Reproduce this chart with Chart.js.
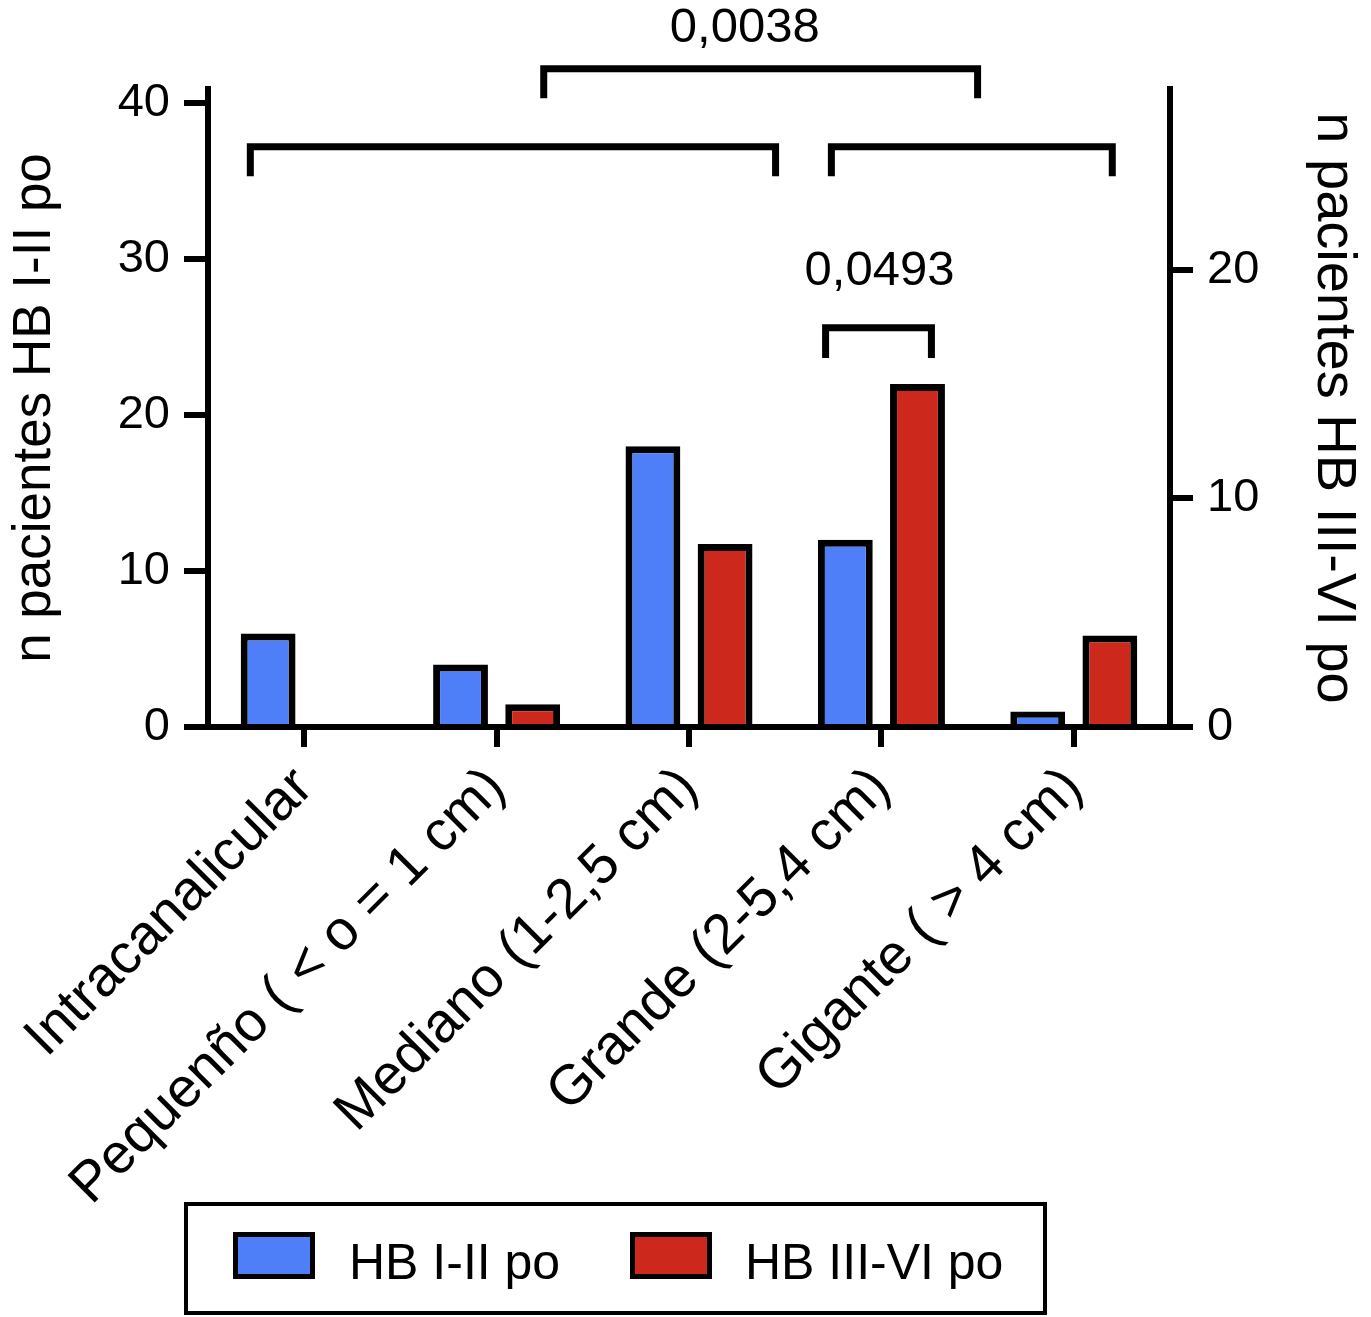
<!DOCTYPE html>
<html>
<head>
<meta charset="utf-8">
<script src="https://cdn.jsdelivr.net/npm/chart.js@4.4.1/dist/chart.umd.min.js"></script>
<style>
  html, body { margin: 0; padding: 0; background: #ffffff; }
  #wrap { width: 1371px; height: 1317px; position: relative; }
</style>
</head>
<body>
<div id="wrap"><canvas id="c" width="1371" height="1317"></canvas></div>
<script>
// ---- data ----
const categories = [
  "Intracanalicular",
  "Pequenño ( < o = 1 cm)",
  "Mediano (1-2,5 cm)",
  "Grande (2-5,4 cm)",
  "Gigante ( > 4 cm)"
];
const hbLowLabel = "HB I-II po";
const hbHighLabel = "HB III-VI po";
const hbLow = [6, 4, 18, 12, 1];      // left axis
const hbHigh = [0, 1, 8, 15, 4];      // right axis
const leftTicks = [0, 10, 20, 30, 40];
const rightTicks = [0, 10, 20];
const leftTitle = "n pacientes HB I-II po";
const rightTitle = "n pacientes HB III-VI po";

// significance brackets (x in category units, y in left-axis units)
const bracketFrom = [1.245, -0.28, 2.74, 2.71];
const bracketTo   = [3.50, 2.45, 4.20, 3.26];
const bracketTop  = [42.2, 37.2, 37.2, 25.6];
const bracketLeg  = [40.3, 35.3, 35.3, 23.65];
const pLabels = ["0,0038", "0,0493"];
const pLabelX = [2.29, 2.99];
const pLabelY = [44.8, 29.2];

const FONT = "'Liberation Sans', Arial, Helvetica, sans-serif";
const BLUE = "#4f7ff8";
const RED = "#cc281c";

const bracketPlugin = {
  id: 'brackets',
  afterDatasetsDraw(chart) {
    const ctx = chart.ctx;
    const xs = chart.scales.x, ys = chart.scales.y;
    const unit = xs.getPixelForValue(1) - xs.getPixelForValue(0);
    const px = v => xs.getPixelForValue(0) + v * unit;
    ctx.save();
    ctx.strokeStyle = '#000';
    ctx.lineWidth = 7;
    ctx.lineJoin = 'miter';
    ctx.lineCap = 'butt';
    for (let i = 0; i < bracketFrom.length; i++) {
      const x1 = px(bracketFrom[i]), x2 = px(bracketTo[i]);
      const yt = ys.getPixelForValue(bracketTop[i]);
      const yl = ys.getPixelForValue(bracketLeg[i]);
      ctx.beginPath();
      ctx.moveTo(x1, yl);
      ctx.lineTo(x1, yt);
      ctx.lineTo(x2, yt);
      ctx.lineTo(x2, yl);
      ctx.stroke();
    }
    ctx.fillStyle = '#000';
    ctx.font = '49px ' + FONT;
    ctx.textAlign = 'center';
    ctx.textBaseline = 'middle';
    for (let i = 0; i < pLabels.length; i++) {
      ctx.fillText(pLabels[i], px(pLabelX[i]), ys.getPixelForValue(pLabelY[i]));
    }
    ctx.restore();
  }
};

const legendPlugin = {
  id: 'boxLegend',
  afterDraw(chart) {
    const ctx = chart.ctx;
    const box = { x: 184, y: 1202, w: 863, h: 113 };
    const swatchX = [233, 630];
    const textX = [349, 745];
    ctx.save();
    ctx.strokeStyle = '#000';
    ctx.lineWidth = 4;
    ctx.strokeRect(box.x + 2, box.y + 2, box.w - 4, box.h - 4);
    chart.data.datasets.forEach((ds, i) => {
      ctx.fillStyle = ds.backgroundColor;
      ctx.fillRect(swatchX[i], 1232, 82, 47);
      ctx.lineWidth = 5;
      ctx.strokeStyle = '#000';
      ctx.strokeRect(swatchX[i] + 2.5, 1232 + 2.5, 82 - 5, 47 - 5);
      ctx.fillStyle = '#000';
      ctx.font = '50px ' + FONT;
      ctx.textAlign = 'left';
      ctx.textBaseline = 'alphabetic';
      ctx.fillText(ds.label, textX[i], 1279);
    });
    ctx.restore();
  }
};

new Chart(document.getElementById('c'), {
  type: 'bar',
  data: {
    labels: categories,
    datasets: [
      {
        label: hbLowLabel,
        data: hbLow,
        yAxisID: 'y',
        backgroundColor: BLUE,
        borderColor: '#000',
        borderWidth: 7,
        borderSkipped: 'start',
        categoryPercentage: 0.75,
        barPercentage: 0.76
      },
      {
        label: hbHighLabel,
        data: hbHigh,
        yAxisID: 'y1',
        backgroundColor: RED,
        borderColor: '#000',
        borderWidth: 7,
        borderSkipped: 'start',
        categoryPercentage: 0.75,
        barPercentage: 0.76
      }
    ]
  },
  options: {
    responsive: false,
    animation: false,
    devicePixelRatio: 1,
    layout: { padding: { top: 89, left: 0, right: 0, bottom: 0 } },
    plugins: {
      legend: { display: false },
      tooltip: { enabled: false },
      title: { display: false }
    },
    scales: {
      x: {
        afterFit: s => { s.height = 1317 - 89 - 638; },
        border: { display: true, color: '#000', width: 6 },
        grid: {
          display: true, drawOnChartArea: false, offset: false,
          color: '#000', lineWidth: 6, tickLength: 20
        },
        ticks: {
          autoSkip: false, minRotation: 45, maxRotation: 45,
          color: '#000', padding: 8,
          font: { family: FONT, size: 56 }
        }
      },
      y: {
        position: 'left',
        min: 0, max: 40.9,
        afterFit: s => { s.width = 208; },
        afterBuildTicks: s => { s.ticks = leftTicks.map(v => ({ value: v })); },
        border: { display: true, color: '#000', width: 6 },
        grid: { display: true, drawOnChartArea: false, color: '#000', lineWidth: 6, tickLength: 24 },
        ticks: { color: '#000', padding: 14, font: { family: FONT, size: 47 } },
        title: {
          display: true, text: leftTitle, color: '#000',
          font: { family: FONT, size: 53 }, padding: { top: 4, bottom: 0 }
        }
      },
      y1: {
        position: 'right',
        min: 0, max: 27.9,
        afterFit: s => { s.width = 201; },
        afterBuildTicks: s => { s.ticks = rightTicks.map(v => ({ value: v })); },
        border: { display: true, color: '#000', width: 6 },
        grid: { display: true, drawOnChartArea: false, color: '#000', lineWidth: 6, tickLength: 23 },
        ticks: { color: '#000', padding: 14, font: { family: FONT, size: 47 } },
        title: {
          display: true, text: rightTitle, color: '#000',
          font: { family: FONT, size: 56 }, padding: { top: 4, bottom: 0 }
        }
      }
    }
  },
  plugins: [bracketPlugin, legendPlugin]
});
</script>
</body>
</html>
